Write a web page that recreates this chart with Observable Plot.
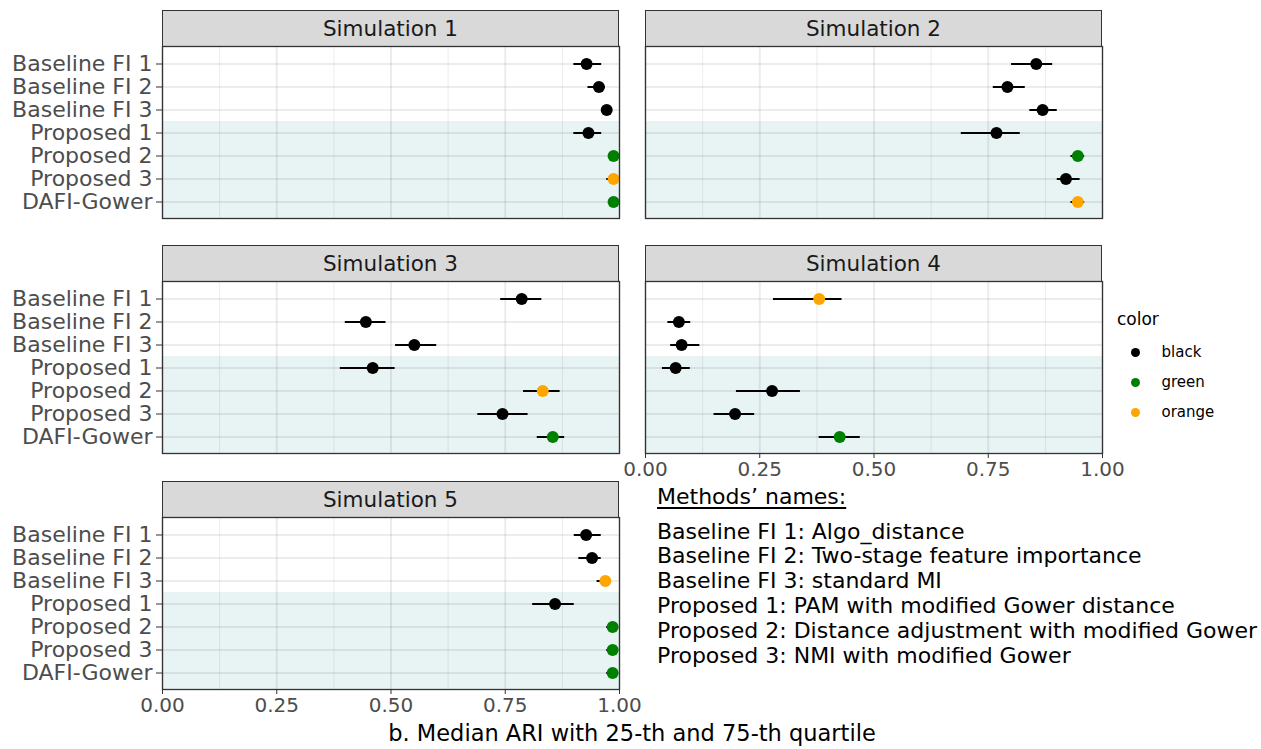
<!DOCTYPE html>
<html><head><meta charset="utf-8">
<script src="https://cdn.jsdelivr.net/npm/d3@7"></script>
<script src="https://cdn.jsdelivr.net/npm/@observablehq/plot@0.6"></script>
<style>
body{margin:0;background:#fff;}
#chart{position:relative;width:1261px;height:749px;font-family:"DejaVu Sans",sans-serif;overflow:hidden;background:#fff;}
.strip{position:absolute;box-sizing:border-box;background:#D9D9D9;border:1.2px solid #333;color:#1A1A1A;font-size:21.5px;display:flex;align-items:center;justify-content:center;}
.abs{position:absolute;white-space:nowrap;}
svg{overflow:visible;}
</style></head><body><div id="chart"></div>
<script>
// ---------- data ----------
const methods = ["Baseline FI 1","Baseline FI 2","Baseline FI 3","Proposed 1","Proposed 2","Proposed 3","DAFI-Gower"];
const shadedMethods = ["Proposed 1","Proposed 2","Proposed 3","DAFI-Gower"];
const simulations = ["Simulation 1","Simulation 2","Simulation 3","Simulation 4","Simulation 5"];

const sim1Median = [0.928,0.955,0.972,0.932,0.987,0.987,0.987];
const sim1Q25    = [0.900,0.931,0.965,0.900,0.980,0.972,0.980];
const sim1Q75    = [0.961,0.969,0.978,0.961,0.993,0.995,0.993];
const sim1Color  = ["black","black","black","black","green","orange","green"];

const sim2Median = [0.855,0.792,0.869,0.768,0.946,0.920,0.946];
const sim2Q25    = [0.801,0.761,0.841,0.691,0.931,0.901,0.931];
const sim2Q75    = [0.891,0.831,0.901,0.820,0.961,0.951,0.961];
const sim2Color  = ["black","black","black","black","green","black","orange"];

const sim3Median = [0.786,0.445,0.551,0.460,0.832,0.744,0.854];
const sim3Q25    = [0.740,0.400,0.510,0.389,0.790,0.690,0.820];
const sim3Q75    = [0.830,0.489,0.600,0.509,0.870,0.800,0.880];
const sim3Color  = ["black","black","black","black","orange","black","green"];

const sim4Median = [0.380,0.073,0.079,0.066,0.277,0.196,0.425];
const sim4Q25    = [0.280,0.049,0.055,0.037,0.199,0.150,0.380];
const sim4Q75    = [0.430,0.099,0.119,0.098,0.339,0.239,0.470];
const sim4Color  = ["orange","black","black","black","black","black","green"];

const sim5Median = [0.927,0.940,0.969,0.859,0.985,0.985,0.985];
const sim5Q25    = [0.901,0.911,0.951,0.810,0.972,0.972,0.972];
const sim5Q75    = [0.960,0.960,0.977,0.901,0.998,0.998,0.998];
const sim5Color  = ["black","black","orange","black","green","green","green"];

const xTicks = [0, 0.25, 0.5, 0.75, 1];
const xMinor = [0.125, 0.375, 0.625, 0.875];
const colorNames = ["black","green","orange"];
const colorValues = ["#000000","#008B00","#FFA500"];
const legendTitle = "color";
const xTitle = "b. Median ARI with 25-th and 75-th quartile";
const noteTitle = "Methods\u2019 names:";
const noteLines = [
  "Baseline FI 1: Algo_distance",
  "Baseline FI 2: Two-stage feature importance",
  "Baseline FI 3: standard MI",
  "Proposed 1: PAM with modified Gower distance",
  "Proposed 2: Distance adjustment with modified Gower",
  "Proposed 3: NMI with modified Gower"
];

const medians = [sim1Median, sim2Median, sim3Median, sim4Median, sim5Median];
const q25s = [sim1Q25, sim2Q25, sim3Q25, sim4Q25, sim5Q25];
const q75s = [sim1Q75, sim2Q75, sim3Q75, sim4Q75, sim5Q75];
const colors = [sim1Color, sim2Color, sim3Color, sim4Color, sim5Color];

// ---------- layout ----------
const FONT = "'DejaVu Sans', sans-serif";
const colLeft = [162, 645];
const panelW = 457;
const stripTop = [10, 245, 481];
const stripH = 36;
const panelH = 172;
const chart = document.getElementById("chart");

function place(el, left, top){
  el.style.position = "absolute";
  el.style.left = left + "px";
  el.style.top = top + "px";
  chart.appendChild(el);
}

simulations.forEach((name, i) => {
  const col = i % 2, row = Math.floor(i / 2);
  const showY = col === 0;
  const showX = (i === 3 || i === 4);
  const ML = showY ? 162 : 1, MR = 1, MT = 1, MB = showX ? 50 : 1;
  const left = colLeft[col];
  const pTop = stripTop[row] + stripH;

  const strip = document.createElement("div");
  strip.className = "strip";
  strip.textContent = name;
  strip.style.width = panelW + "px";
  strip.style.height = (stripH + 1) + "px";
  place(strip, left, stripTop[row]);

  const data = methods.map((m, j) => ({method: m, median: medians[i][j], lo: q25s[i][j], hi: q75s[i][j], color: colors[i][j]}));

  const p = Plot.plot({
    width: ML + panelW + MR,
    height: MT + panelH + MB,
    marginLeft: ML, marginRight: MR, marginTop: MT, marginBottom: MB,
    style: {fontFamily: FONT, background: "transparent", overflow: "visible"},
    x: {domain: [0, 1], axis: null},
    y: {type: "band", domain: methods, paddingInner: 0, paddingOuter: 0.1, axis: null},
    color: {type: "ordinal", domain: colorNames, range: colorValues},
    marks: [
      Plot.cell(shadedMethods, {y: d => d, fill: "#E8F3F3", insetBottom: -8, clip: true}),
      Plot.ruleX(xMinor, {stroke: "#000", strokeOpacity: 0.075, strokeWidth: 1}),
      Plot.ruleX(xTicks, {stroke: "#000", strokeOpacity: 0.075, strokeWidth: 2}),
      Plot.ruleY(methods, {y: d => d, stroke: "#000", strokeOpacity: 0.075, strokeWidth: 2}),
      Plot.ruleY(data, {y: "method", x1: "lo", x2: "hi", stroke: "#000", strokeWidth: 2}),
      Plot.dot(data, {y: "method", x: "median", fill: "color", r: 6}),
      Plot.frame({stroke: "#333", strokeWidth: 1.3}),
      showY ? Plot.axisY({tickSize: 6, tickPadding: 4, fontSize: 22, fill: "#4D4D4D", stroke: "#333", label: null}) : null,
      showX ? Plot.axisX({ticks: xTicks, tickSize: 5, tickPadding: 3, fontSize: 20, tickFormat: d => d.toFixed(2), fill: "#4D4D4D", stroke: "#333", label: null}) : null
    ]
  });
  place(p, left - ML, pTop - MT);
});

// x title
const xt = document.createElement("div");
xt.className = "abs";
xt.textContent = xTitle;
xt.style.fontSize = "22.5px";
xt.style.color = "#000";
xt.style.lineHeight = "26px";
xt.style.transform = "translateX(-50%)";
place(xt, (colLeft[0] + colLeft[1] + panelW) / 2, 733 - 13);

// legend
const lt = document.createElement("div");
lt.className = "abs";
lt.textContent = legendTitle;
lt.style.fontSize = "17px";
lt.style.lineHeight = "20px";
place(lt, 1117, 309);

const legend = Plot.plot({
  width: 160, height: 90,
  marginLeft: 35, marginRight: 0, marginTop: 15, marginBottom: 15,
  style: {fontFamily: FONT, background: "transparent", overflow: "visible"},
  y: {type: "point", domain: colorNames, padding: 0, axis: null},
  color: {type: "ordinal", domain: colorNames, range: colorValues},
  marks: [
    Plot.dot(colorNames, {y: d => d, fill: d => d, r: 4.5, frameAnchor: "left"}),
    Plot.text(colorNames, {y: d => d, text: d => d, frameAnchor: "left", dx: 26, textAnchor: "start", fontSize: 15, fill: "#000"})
  ]
});
place(legend, 1100, 352 - 15);

// methods note
const nt = document.createElement("div");
nt.className = "abs";
nt.textContent = noteTitle;
nt.style.fontSize = "22px";
nt.style.lineHeight = "26px";
nt.style.textDecoration = "underline";
nt.style.textUnderlineOffset = "3px";
place(nt, 657, 497 - 13);

const nl = document.createElement("div");
nl.className = "abs";
nl.style.fontSize = "22px";
nl.style.lineHeight = "24.8px";
noteLines.forEach(t => { const d = document.createElement("div"); d.textContent = t; nl.appendChild(d); });
place(nl, 657, 532 - 12.4);
</script>
</body></html>
